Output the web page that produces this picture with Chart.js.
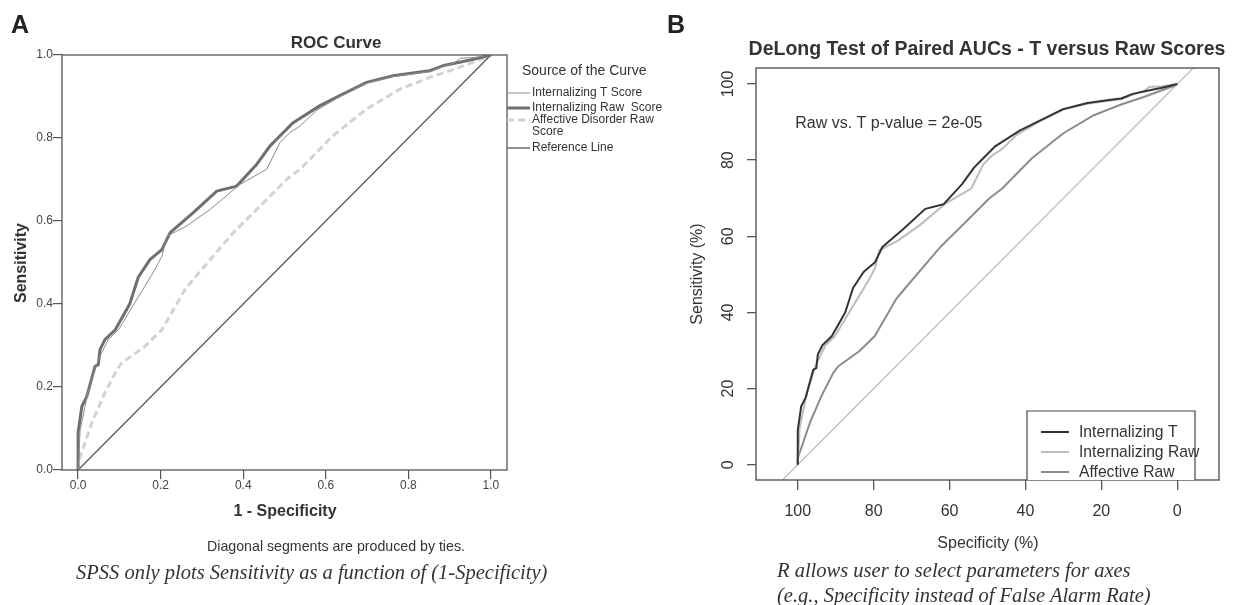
<!DOCTYPE html>
<html>
<head>
<meta charset="utf-8">
<script src="https://cdn.jsdelivr.net/npm/chart.js@4.4.1/dist/chart.umd.min.js"></script>
<style>
  body { margin: 0; background: #fff; width: 1241px; height: 605px; position: relative; overflow: hidden;
         font-family: 'Liberation Sans', Arial, sans-serif; color: #333; }
  canvas { position: absolute; top: 0; }
  .t { position: absolute; transform: translate(-50%, -50%); white-space: nowrap; line-height: 1; }
  .rot { transform: translate(-50%, -50%) rotate(-90deg); }
  .cap { position: absolute; font-family: 'Liberation Serif', serif; font-style: italic; font-size: 20.5px;
         color: #333; white-space: nowrap; line-height: 1; transform: translateY(-50%); }
</style>
</head>
<body>
<canvas id="rocA" width="690" height="605" style="left:0"></canvas>
<canvas id="rocB" width="621" height="605" style="left:620px"></canvas>

<div class="t" style="left:20px;top:24px;font-size:25px;font-weight:bold;color:#222">A</div>
<div class="t" style="left:676px;top:24px;font-size:25px;font-weight:bold;color:#222">B</div>

<div class="t" style="left:336px;top:42px;font-size:17px;font-weight:bold">ROC Curve</div>
<div class="t rot" style="left:21px;top:263px;font-size:16px;font-weight:bold">Sensitivity</div>
<div class="t" style="left:285px;top:511px;font-size:16px;font-weight:bold">1 - Specificity</div>
<div class="t" style="left:336px;top:546px;font-size:14.2px">Diagonal segments are produced by ties.</div>
<div class="cap" style="left:76px;top:572px">SPSS only plots Sensitivity as a function of (1-Specificity)</div>

<div class="t" style="left:987px;top:49px;font-size:19.5px;font-weight:bold">DeLong Test of Paired AUCs - T versus Raw Scores</div>
<div class="t rot" style="left:697px;top:274px;font-size:16px">Sensitivity (%)</div>
<div class="t" style="left:988px;top:543px;font-size:16px">Specificity (%)</div>
<div class="cap" style="left:777px;top:570px">R allows user to select parameters for axes</div>
<div class="cap" style="left:777px;top:595px">(e.g., Specificity instead of False Alarm Rate)</div>

<script>
// ROC curves: x = 1 - specificity, y = sensitivity
// curve 1 is the upper one (SPSS "Internalizing Raw Score", R "Internalizing T")
const curve1Fpr  = [0, 0, 0.009, 0.021, 0.041, 0.049, 0.053, 0.065, 0.09, 0.125, 0.146, 0.174, 0.203, 0.223, 0.279, 0.336, 0.384, 0.433, 0.465, 0.481, 0.521, 0.586, 0.634, 0.699, 0.763, 0.820, 0.852, 0.883, 0.921, 0.960, 1];
const curve1Sens = [0, 0.09, 0.153, 0.177, 0.25, 0.254, 0.29, 0.314, 0.338, 0.40, 0.465, 0.507, 0.531, 0.572, 0.62, 0.672, 0.684, 0.737, 0.781, 0.797, 0.837, 0.878, 0.902, 0.934, 0.950, 0.958, 0.962, 0.974, 0.982, 0.990, 1];
// curve 2 is the lower one (SPSS "Internalizing T Score", R "Internalizing Raw")
const curve2Fpr  = [0, 0.005, 0.025, 0.049, 0.073, 0.098, 0.186, 0.203, 0.215, 0.263, 0.320, 0.392, 0.457, 0.489, 0.513, 0.538, 0.578, 0.634, 0.699, 0.763, 0.820, 0.852, 0.883, 0.910, 0.926, 0.960, 1];
const curve2Sens = [0, 0.097, 0.193, 0.266, 0.314, 0.338, 0.483, 0.515, 0.563, 0.588, 0.628, 0.688, 0.725, 0.789, 0.813, 0.829, 0.867, 0.900, 0.932, 0.948, 0.956, 0.960, 0.972, 0.980, 0.992, 0.994, 1];
// affective disorder raw score
const affFpr  = [0, 0, 0.033, 0.065, 0.094, 0.106, 0.162, 0.203, 0.259, 0.279, 0.376, 0.457, 0.505, 0.538, 0.617, 0.699, 0.780, 0.852, 0.912, 0.988, 1];
const affSens = [0, 0.017, 0.113, 0.186, 0.242, 0.258, 0.298, 0.338, 0.435, 0.459, 0.572, 0.652, 0.70, 0.725, 0.805, 0.870, 0.918, 0.946, 0.966, 0.994, 1];
// reference lines
const refA = [0, 1];
const refB = [120, -20];

const ticksA = [0, 0.2, 0.4, 0.6, 0.8, 1.0];
const ticksB = [0, 20, 40, 60, 80, 100];
const pText = 'Raw vs. T p-value = 2e-05';

const FONT = "'Liberation Sans', Arial, sans-serif";

// SPSS style: x = 1 - specificity
function ptsA(fpr, sens) {
  return fpr.map((f, i) => ({ x: f, y: sens[i] }));
}
// R style: x = specificity in %, y = sensitivity in %
function ptsB(fpr, sens) {
  return fpr.map((f, i) => ({ x: 100 * (1 - f), y: 100 * sens[i] }));
}

const framePlugin = {
  id: 'frame',
  afterDraw(chart, args, opts) {
    const { ctx, chartArea: a } = chart;
    ctx.save();
    ctx.strokeStyle = opts.color;
    ctx.lineWidth = opts.width;
    ctx.strokeRect(a.left, a.top, a.right - a.left, a.bottom - a.top);
    ctx.restore();
  }
};

// legend to the right of the SPSS plot
const spssLegend = {
  id: 'spssLegend',
  afterDraw(chart, args, opts) {
    const ctx = chart.ctx;
    const x0 = chart.chartArea.right;
    ctx.save();
    ctx.fillStyle = '#333';
    ctx.textBaseline = 'middle';
    ctx.font = '14px ' + FONT;
    ctx.fillText(opts.title, x0 + 15, 71);
    ctx.font = '12px ' + FONT;
    chart.data.datasets.forEach((ds, i) => {
      const y = opts.rows[i];
      ctx.strokeStyle = ds.borderColor;
      ctx.lineWidth = ds.borderWidth;
      ctx.setLineDash(ds.borderDash || []);
      ctx.beginPath();
      ctx.moveTo(x0, y);
      ctx.lineTo(x0 + 23, y);
      ctx.stroke();
      [].concat(ds.label).forEach((t, k) => ctx.fillText(t, x0 + 25, y + k * 12));
    });
    ctx.restore();
  }
};

// boxed legend and rotated y labels of the R plot
const rExtras = {
  id: 'rExtras',
  afterDraw(chart, args, opts) {
    const { ctx, chartArea: a, scales } = chart;
    ctx.save();
    ctx.fillStyle = '#333';
    ctx.font = '16px ' + FONT;
    ctx.textAlign = 'center';
    ctx.textBaseline = 'middle';
    scales.y.ticks.forEach(t => {
      ctx.save();
      ctx.translate(109, scales.y.getPixelForValue(t.value));
      ctx.rotate(-Math.PI / 2);
      ctx.fillText(String(t.value), 0, 0);
      ctx.restore();
    });
    ctx.fillText(pText, scales.x.getPixelForValue(76), scales.y.getPixelForValue(89.6));

    // legend box
    const bx = 407, by = 411, bw = 168;
    ctx.fillStyle = '#fff';
    ctx.fillRect(bx, by, bw, a.bottom - by);
    ctx.strokeStyle = '#444';
    ctx.lineWidth = 1.2;
    ctx.beginPath();
    ctx.moveTo(bx, a.bottom);
    ctx.lineTo(bx, by);
    ctx.lineTo(bx + bw, by);
    ctx.lineTo(bx + bw, a.bottom);
    ctx.stroke();
    ctx.textAlign = 'left';
    ctx.fillStyle = '#333';
    ctx.font = '15.7px ' + FONT;
    chart.data.datasets.slice(0, 3).forEach((ds, i) => {
      const y = 432 + i * 20;
      ctx.strokeStyle = ds.borderColor;
      ctx.lineWidth = ds.borderWidth;
      ctx.beginPath();
      ctx.moveTo(bx + 14, y);
      ctx.lineTo(bx + 42, y);
      ctx.stroke();
      ctx.fillText(ds.label, bx + 52, y + 1);
    });
    ctx.restore();
  }
};

function line(label, data, color, width, dash) {
  return { label, data, showLine: true, borderColor: color, borderWidth: width,
           borderDash: dash || [], pointRadius: 0, tension: 0, fill: false,
           borderJoinStyle: 'round' };
}

function axis(opts) {
  return Object.assign({
    type: 'linear',
    border: { display: false },
    grid: { display: true, drawOnChartArea: false, drawTicks: true, color: '#555', lineWidth: 1.2 },
  }, opts);
}

// Panel A: SPSS
new Chart(document.getElementById('rocA'), {
  type: 'scatter',
  data: {
    datasets: [
      line('Internalizing T Score', ptsA(curve2Fpr, curve2Sens), '#8a8a8a', 1),
      line('Internalizing Raw  Score', ptsA(curve1Fpr, curve1Sens), '#6f6f6f', 3),
      line(['Affective Disorder Raw', 'Score'], ptsA(affFpr, affSens), '#d2d2d2', 3, [7, 4]),
      line('Reference Line', ptsA(refA, refA), '#555', 1.3),
    ]
  },
  options: {
    responsive: false,
    animation: false,
    events: [],
    devicePixelRatio: 1,
    layout: { padding: { left: 22, top: 55, right: 183, bottom: 105 } },
    scales: {
      x: axis({
        min: -0.039, max: 1.039,
        afterBuildTicks: s => { s.ticks = ticksA.map(v => ({ value: v })); },
        afterFit: s => { s.height = 30; },
        grid: { display: true, drawOnChartArea: false, drawTicks: true, color: '#555', lineWidth: 1.2, tickLength: 9 },
        ticks: { padding: -1, color: '#444', font: { size: 12, family: FONT }, maxRotation: 0,
                 callback: v => v.toFixed(1) }
      }),
      y: axis({
        min: 0, max: 1,
        afterBuildTicks: s => { s.ticks = ticksA.map(v => ({ value: v })); },
        afterFit: s => { s.width = 40; },
        grid: { display: true, drawOnChartArea: false, drawTicks: true, color: '#555', lineWidth: 1.2, tickLength: 9 },
        ticks: { padding: 0, color: '#444', font: { size: 12, family: FONT },
                 callback: v => v.toFixed(1) }
      })
    },
    plugins: {
      legend: { display: false },
      tooltip: { enabled: false },
      frame: { color: '#555', width: 1.3 },
      spssLegend: { title: 'Source of the Curve', rows: [93, 108, 120, 148] }
    }
  },
  plugins: [framePlugin, spssLegend]
});

// Panel B: R / pROC
new Chart(document.getElementById('rocB'), {
  type: 'scatter',
  data: {
    datasets: [
      line('Internalizing T', ptsB(curve1Fpr, curve1Sens), '#333', 2),
      line('Internalizing Raw', ptsB(curve2Fpr, curve2Sens), '#bdbdbd', 2),
      line('Affective Raw', ptsB(affFpr, affSens), '#8c8c8c', 2),
      { label: 'reference', data: refB.map((s, i) => ({ x: s, y: refB[1 - i] })), showLine: true,
        borderColor: '#bdbdbd', borderWidth: 1.3, pointRadius: 0 },
    ]
  },
  options: {
    responsive: false,
    animation: false,
    events: [],
    devicePixelRatio: 1,
    layout: { padding: { left: 86, top: 68, right: 22, bottom: 75 } },
    scales: {
      x: axis({
        min: -11, max: 111, reverse: true,
        afterBuildTicks: s => { s.ticks = ticksB.map(v => ({ value: v })); },
        afterFit: s => { s.height = 50; },
        grid: { display: true, drawOnChartArea: false, drawTicks: true, color: '#555', lineWidth: 1.3, tickLength: 10 },
        ticks: { padding: 12, color: '#333', font: { size: 16, family: FONT }, maxRotation: 0 }
      }),
      y: axis({
        min: -4, max: 104.2,
        afterBuildTicks: s => { s.ticks = ticksB.map(v => ({ value: v })); },
        afterFit: s => { s.width = 50; },
        grid: { display: true, drawOnChartArea: false, drawTicks: true, color: '#555', lineWidth: 1.3, tickLength: 9 },
        ticks: { display: false }
      })
    },
    plugins: {
      legend: { display: false },
      tooltip: { enabled: false },
      frame: { color: '#555', width: 1.4 }
    }
  },
  plugins: [framePlugin, rExtras]
});
</script>
</body>
</html>
